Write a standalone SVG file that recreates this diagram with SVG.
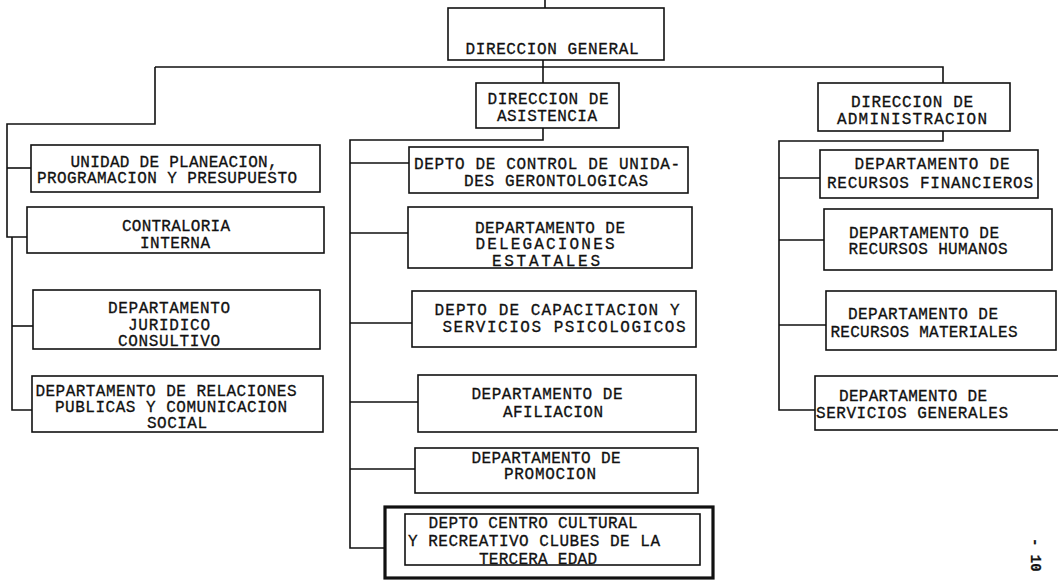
<svg xmlns="http://www.w3.org/2000/svg" width="1058" height="580" viewBox="0 0 1058 580">
<style>
.bx{fill:none;stroke:#111;stroke-width:1.6}
.thick{fill:none;stroke:#111;stroke-width:3.2}
.ln{fill:none;stroke:#111;stroke-width:1.6}
text{font-family:"Liberation Mono","DejaVu Sans Mono",monospace;font-size:16px;fill:#111;stroke:#111;stroke-width:0.3;text-anchor:middle}
</style>
<rect width="1058" height="580" fill="#fff"/>
<g id="connectors">
<path class="ln" d="M545,0V8"/>
<path class="ln" d="M543,60V83"/>
<path class="ln" d="M155,67H943V83"/>
<path class="ln" d="M155,67V124H7V237H27"/>
<path class="ln" d="M7,168H31"/>
<path class="ln" d="M12,237V410H32"/>
<path class="ln" d="M12,326H33"/>
<path class="ln" d="M543,128V140H350V548H385"/>
<path class="ln" d="M350,163H409M350,233H408M350,323H412M350,402H418M350,469H415"/>
<path class="ln" d="M943,131V141H779V410H815"/>
<path class="ln" d="M779,178H820M779,240H824M779,325H826"/>
</g>
<g id="n-general"><rect class="bx" x="448" y="8" width="216" height="52"/><text x="552" y="54" textLength="173" lengthAdjust="spacing">DIRECCION GENERAL</text></g>
<g id="n-asistencia"><rect class="bx" x="476" y="83" width="143" height="45"/><text x="548" y="104" textLength="121" lengthAdjust="spacing">DIRECCION DE</text><text x="547" y="121" textLength="100" lengthAdjust="spacing">ASISTENCIA</text></g>
<g id="n-administracion"><rect class="bx" x="818" y="83" width="192" height="48"/><text x="912" y="107" textLength="122" lengthAdjust="spacing">DIRECCION DE</text><text x="912" y="124" textLength="150" lengthAdjust="spacing">ADMINISTRACION</text></g>
<g id="n-planeacion"><rect class="bx" x="31" y="145" width="289" height="47"/><text x="174" y="167" textLength="207" lengthAdjust="spacing">UNIDAD DE PLANEACION,</text><text x="167" y="183" textLength="260" lengthAdjust="spacing">PROGRAMACION Y PRESUPUESTO</text></g>
<g id="n-contraloria"><rect class="bx" x="27" y="207" width="297" height="46"/><text x="176" y="231" textLength="108" lengthAdjust="spacing">CONTRALORIA</text><text x="175" y="248" textLength="70" lengthAdjust="spacing">INTERNA</text></g>
<g id="n-juridico"><rect class="bx" x="33" y="290" width="287" height="59"/><text x="169" y="313" textLength="122" lengthAdjust="spacing">DEPARTAMENTO</text><text x="169" y="330" textLength="82" lengthAdjust="spacing">JURIDICO</text><text x="169" y="346" textLength="102" lengthAdjust="spacing">CONSULTIVO</text></g>
<g id="n-relaciones"><rect class="bx" x="32" y="376" width="291" height="56"/><text x="166" y="396" textLength="261" lengthAdjust="spacing">DEPARTAMENTO DE RELACIONES</text><text x="171" y="412" textLength="232" lengthAdjust="spacing">PUBLICAS Y COMUNICACION</text><text x="177" y="428" textLength="60" lengthAdjust="spacing">SOCIAL</text></g>
<g id="n-control"><rect class="bx" x="409" y="147" width="279" height="46"/><text x="547" y="169" textLength="266" lengthAdjust="spacing">DEPTO DE CONTROL DE UNIDA-</text><text x="556" y="186" textLength="184" lengthAdjust="spacing">DES GERONTOLOGICAS</text></g>
<g id="n-delegaciones"><rect class="bx" x="408" y="207" width="284" height="61"/><text x="550" y="233" textLength="150" lengthAdjust="spacing">DEPARTAMENTO DE</text><text x="545" y="249" textLength="139" lengthAdjust="spacing">DELEGACIONES</text><text x="546" y="266" textLength="108" lengthAdjust="spacing">ESTATALES</text></g>
<g id="n-capacitacion"><rect class="bx" x="412" y="291" width="284" height="56"/><text x="557" y="315" textLength="245" lengthAdjust="spacing">DEPTO DE CAPACITACION Y</text><text x="564" y="332" textLength="243" lengthAdjust="spacing">SERVICIOS PSICOLOGICOS</text></g>
<g id="n-afiliacion"><rect class="bx" x="418" y="375" width="278" height="57"/><text x="547" y="399" textLength="151" lengthAdjust="spacing">DEPARTAMENTO DE</text><text x="553" y="417" textLength="100" lengthAdjust="spacing">AFILIACION</text></g>
<g id="n-promocion"><rect class="bx" x="415" y="448" width="283" height="45"/><text x="546" y="463" textLength="149" lengthAdjust="spacing">DEPARTAMENTO DE</text><text x="550" y="479" textLength="92" lengthAdjust="spacing">PROMOCION</text></g>
<g id="n-centro"><rect class="thick" x="385" y="507" width="328" height="71"/><rect class="bx" x="405" y="514" width="295" height="51"/><text x="533" y="528" textLength="209" lengthAdjust="spacing">DEPTO CENTRO CULTURAL</text><text x="534" y="546" textLength="252" lengthAdjust="spacing">Y RECREATIVO CLUBES DE LA</text><text x="538" y="564" textLength="118" lengthAdjust="spacing">TERCERA EDAD</text></g>
<g id="n-financieros"><rect class="bx" x="820" y="150" width="218" height="48"/><text x="932" y="169" textLength="155" lengthAdjust="spacing">DEPARTAMENTO DE</text><text x="930" y="188" textLength="206" lengthAdjust="spacing">RECURSOS FINANCIEROS</text></g>
<g id="n-humanos"><rect class="bx" x="824" y="209" width="228" height="61"/><text x="924" y="238" textLength="150" lengthAdjust="spacing">DEPARTAMENTO DE</text><text x="928" y="254" textLength="159" lengthAdjust="spacing">RECURSOS HUMANOS</text></g>
<g id="n-materiales"><rect class="bx" x="826" y="291" width="230" height="59"/><text x="923" y="319" textLength="150" lengthAdjust="spacing">DEPARTAMENTO DE</text><text x="924" y="337" textLength="187" lengthAdjust="spacing">RECURSOS MATERIALES</text></g>
<g id="n-servicios"><rect class="bx" x="815" y="376" width="260" height="54"/><text x="913" y="401" textLength="148" lengthAdjust="spacing">DEPARTAMENTO DE</text><text x="912" y="418" textLength="192" lengthAdjust="spacing">SERVICIOS GENERALES</text></g>
<text transform="translate(1031,538) rotate(90)" style="text-anchor:start;font-size:14px;font-weight:bold">- 10</text>
</svg>
